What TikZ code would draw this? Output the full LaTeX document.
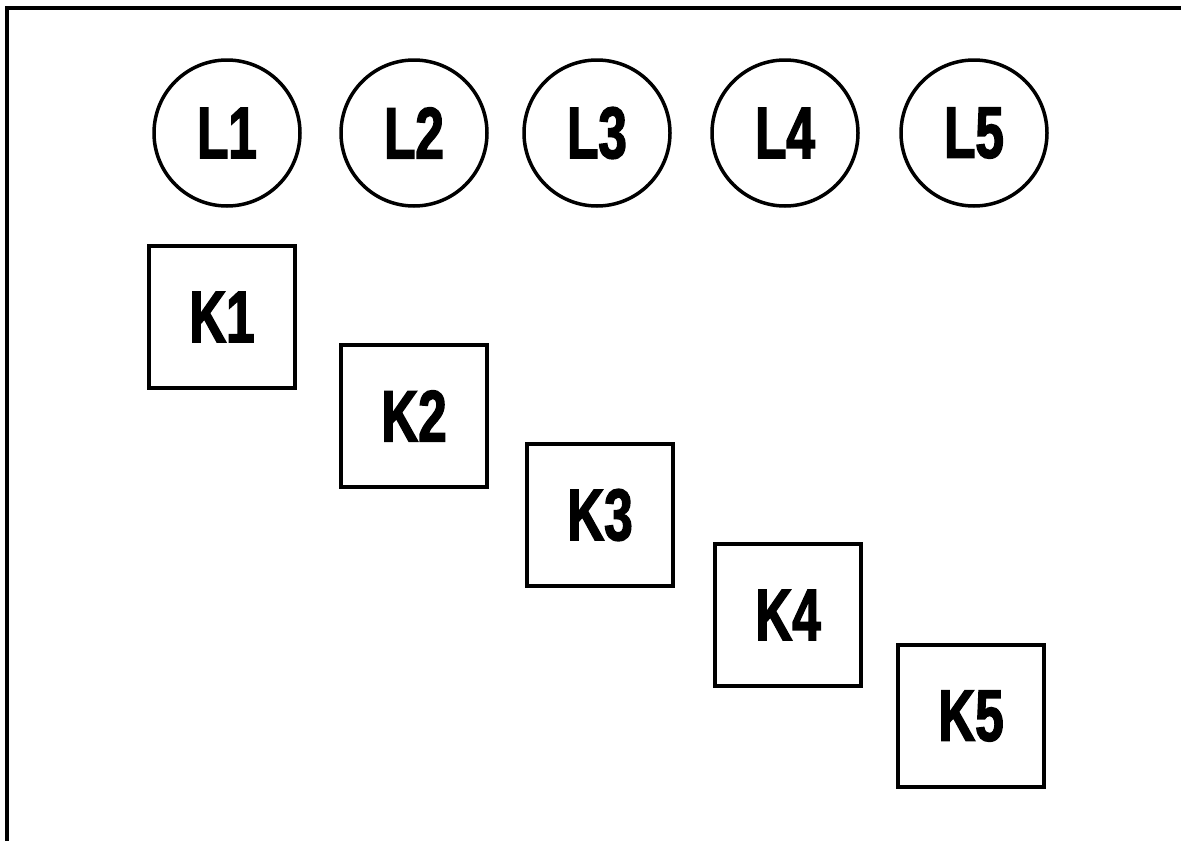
\documentclass[tikz,border=0pt]{standalone}
\usepackage{fontspec}
\newfontfamily\labelfont[FakeStretch=0.7,FakeBold=2]{Liberation Sans}
\usetikzlibrary{positioning}
\tikzstyle{lamp}=[circle,draw,line width=3.5pt,inner sep=0pt,minimum size=146pt,font=\labelfont\bfseries\fontsize{73}{73}\selectfont]
\tikzstyle{key}=[rectangle,draw,line width=3.5pt,inner sep=0pt,minimum width=146pt,minimum height=142pt,font=\labelfont\bfseries\fontsize{73}{73}\selectfont]
\tikzstyle{frame}=[line width=3.5pt]
\begin{document}
\begin{tikzpicture}[x=1pt,y=-1pt]
\useasboundingbox (0,0) rectangle (1181,841);

\draw [frame] (1181,8) -- (7,8) -- (7,841) ;

\node (l1) [lamp] at (227,133) {L1} ;
\node (l2) [lamp] at (414,133) {L2} ;
\node (l3) [lamp] at (597,133) {L3} ;
\node (l4) [lamp] at (785,133) {L4} ;
\node (l5) [lamp] at (974,133) {L5} ;

\node (k1) [key] at (222,317) {K1} ;
\node (k2) [key] at (414,416) {K2} ;
\node (k3) [key] at (600,515) {K3} ;
\node (k4) [key] at (788,615) {K4} ;
\node (k5) [key] at (971,716) {K5} ;

\end{tikzpicture}
\end{document}
